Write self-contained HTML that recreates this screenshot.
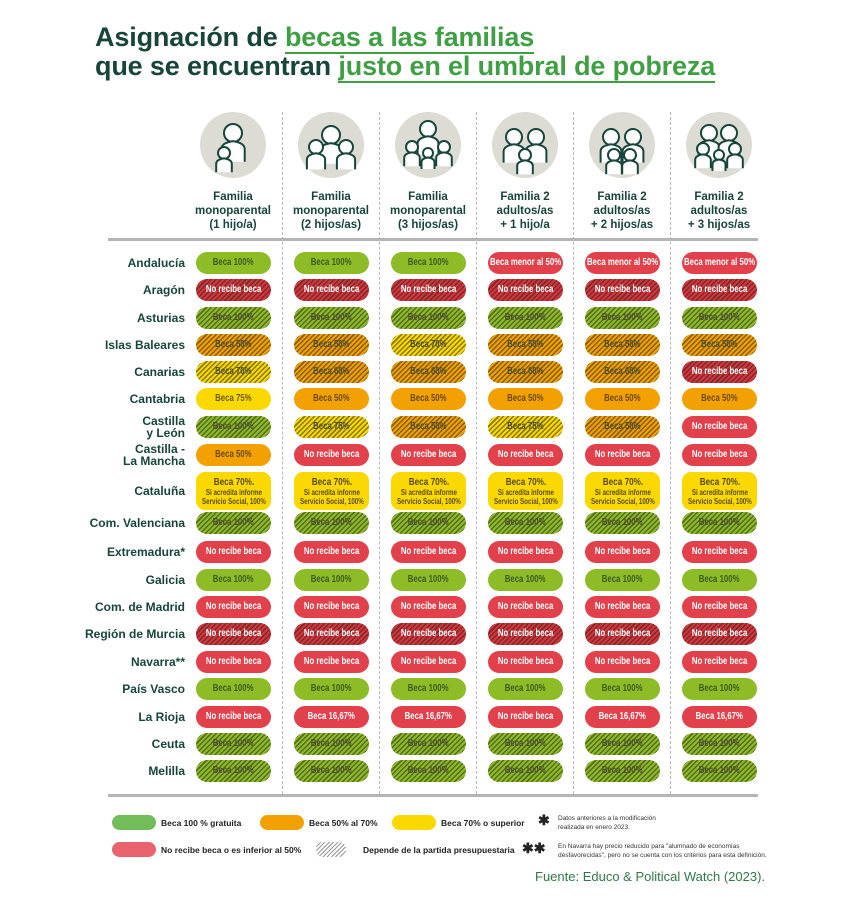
<!DOCTYPE html>
<html><head><meta charset="utf-8"><style>
*{margin:0;padding:0;box-sizing:border-box}
body{width:856px;height:905px;background:#fff;position:relative;overflow:hidden;font-family:"Liberation Sans",sans-serif}
.t{position:absolute;left:95px;font-weight:bold;font-size:27px;color:#17453a;letter-spacing:-0.15px;white-space:nowrap}
.t span{color:#3ea043;border-bottom:2px solid #3ea043}
.hl{position:absolute;left:108px;width:650px;height:3px;background:#b5b5b5}
.vs{position:absolute;width:0;border-left:1px dashed #b8b8c4;top:112px;height:682px}
.circ{position:absolute;width:66px;height:66px;border-radius:50%;background:#dcdcd5}
.hd{position:absolute;width:96px;text-align:center;font-weight:bold;font-size:11.5px;line-height:14px;color:#17453a}
.lb{position:absolute;right:671px;font-weight:bold;font-size:12px;color:#17453a;text-align:right;line-height:12px;white-space:nowrap}
.p{position:absolute;width:75px;height:22px;border-radius:11px;display:flex;align-items:center;justify-content:center;font-weight:bold;font-size:10px;white-space:nowrap;text-align:center;line-height:10px}
.p span{display:inline-block;transform:scaleX(0.78)}
.G{background:#8dbc27;color:#3f5a1e}
.R{background:#e2404b;color:#fff}
.O{background:#f3a100;color:#6b4a10}
.Y{background:#fbd900;color:#6b5a10}
.h{background-image:repeating-linear-gradient(135deg,rgba(40,40,20,.55) 0 1.5px,transparent 1.5px 3.5px)}
.h.G,.h.O,.h.Y{color:#4d4d30}
.h.R{background-color:#d8333e}
.lg{position:absolute;font-weight:bold;font-size:8.5px;color:#222;white-space:nowrap}
.sm{position:absolute;font-size:6.5px;color:#333;line-height:9px;white-space:nowrap}
</style></head><body>
<div class="t" style="top:22px">Asignación de <span>becas a las familias</span></div>
<div class="t" style="top:51px">que se encuentran <span>justo en el umbral de pobreza</span></div>

<div class="vs" style="left:282px"></div><div class="vs" style="left:379px"></div><div class="vs" style="left:476px"></div><div class="vs" style="left:573px"></div><div class="vs" style="left:670px"></div>
<div class="hl" style="top:238px"></div>
<div class="hl" style="top:794px"></div>

<div id="icons"></div>
<div id="grid"></div>

<div class="p" style="left:112px;top:815px;width:44px;height:15px;background:#72bd5a"></div>
<div class="lg" style="left:161px;top:818px">Beca 100 % gratuita</div>
<div class="p O" style="left:260px;top:815px;width:44px;height:15px"></div>
<div class="lg" style="left:309px;top:818px">Beca 50% al 70%</div>
<div class="p Y" style="left:392px;top:815px;width:44px;height:15px"></div>
<div class="lg" style="left:441px;top:818px">Beca 70% o superior</div>
<div class="lg" style="left:538px;top:812px;font-size:14px">✱</div>
<div class="sm" style="left:558px;top:814px">Datos anteriores a la modificación<br>realizada en enero 2023.</div>
<div class="p" style="left:112px;top:842px;width:44px;height:15px;background:#e8636e"></div>
<div class="lg" style="left:161px;top:845px">No recibe beca o es inferior al 50%</div>
<div style="position:absolute;left:316px;top:842px;width:30px;height:15px;border-radius:7px;background:repeating-linear-gradient(135deg,#999 0 1px,transparent 1px 3px)"></div>
<div class="lg" style="left:363px;top:845px">Depende de la partida presupuestaria</div>
<div class="lg" style="left:522px;top:840px;font-size:14px">✱✱</div>
<div class="sm" style="left:558px;top:842px">En Navarra hay precio reducido para "alumnado de economías<br>desfavorecidas", pero no se cuenta con los criterios para esta definición.</div>
<div style="position:absolute;left:535px;top:869px;font-size:13px;color:#2f7a45">Fuente: Educo &amp; Political Watch (2023).</div>

<script>
const cx=[233,331,428,525,622,719];
const heads=["Familia<br>monoparental<br>(1 hijo/a)","Familia<br>monoparental<br>(2 hijos/as)","Familia<br>monoparental<br>(3 hijos/as)","Familia 2<br>adultos/as<br>+ 1 hijo/a","Familia 2<br>adultos/as<br>+ 2 hijos/as","Familia 2<br>adultos/as<br>+ 3 hijos/as"];
let ic="";
const ppl=[[[0,-12,9],[-9,8,6]],[[0,-10,9],[-15,2,7],[15,2,7]],[[0,-16,8],[-16,2,6],[16,2,6],[0,8,5]],[[-11,-8,8],[11,-8,8],[0,10,6]],[[-11,-8,8],[11,-8,8],[-8,10,6],[8,10,6]],[[-10,-12,8],[10,-12,8],[-16,4,6],[16,4,6],[0,10,5]]];
cx.forEach((x,i)=>{
 ic+=`<div class="circ" style="left:${x-33}px;top:112px"></div>`;
 let s=`<svg style="position:absolute;left:${x-40}px;top:105px" width="80" height="80" viewBox="-40 -40 80 80" fill="none" stroke="#17453a" stroke-width="2">`;
 ppl[i].forEach(([a,b,r])=>{s+=`<circle cx="${a}" cy="${b}" r="${r}" fill="#fff"/><path d="M${a-r*1.3} ${b+r*3.2} v-${r*1.4} q0 -${r*0.7} ${r*1.3} -${r*0.9} q${r*1.3} ${r*0.2} ${r*1.3} ${r*0.9} v${r*1.4}" fill="#fff"/>`;});
 ic+=s+`</svg>`;
 ic+=`<div class="hd" style="left:${x-48}px;top:190px">${heads[i]}</div>`;
});
document.getElementById("icons").innerHTML=ic;
const B={G:"Beca 100%",N:"No recibe beca",M:"Beca menor al 50%"};
const rows=[
["Andalucía",263,["G","G","G","R|M","R|M","R|M"]],
["Aragón",290,Array(6).fill("Rh|N")],
["Asturias",318,Array(6).fill("Gh")],
["Islas Baleares",345,["Oh|Beca 50%","Oh|Beca 50%","Yh|Beca 70%","Oh|Beca 50%","Oh|Beca 50%","Oh|Beca 50%"]],
["Canarias",372,["Yh|Beca 70%","Oh|Beca 60%","Oh|Beca 60%","Oh|Beca 60%","Oh|Beca 60%","Rh|N"]],
["Cantabria",399,["Y|Beca 75%","O|Beca 50%","O|Beca 50%","O|Beca 50%","O|Beca 50%","O|Beca 50%"]],
["Castilla<br>y León",427,["Gh","Yh|Beca 75%","Oh|Beca 50%","Yh|Beca 75%","Oh|Beca 50%","R|N"]],
["Castilla -<br>La Mancha",455,["O|Beca 50%","R|N","R|N","R|N","R|N","R|N"]],
["Cataluña",491,Array(6).fill("C")],
["Com. Valenciana",523,Array(6).fill("Gh")],
["Extremadura*",552,Array(6).fill("R|N")],
["Galicia",580,Array(6).fill("G")],
["Com. de Madrid",607,Array(6).fill("R|N")],
["Región de Murcia",634,Array(6).fill("Rh|N")],
["Navarra**",662,Array(6).fill("R|N")],
["País Vasco",689,Array(6).fill("G")],
["La Rioja",717,["R|N","R|Beca 16,67%","R|Beca 16,67%","R|N","R|Beca 16,67%","R|Beca 16,67%"]],
["Ceuta",744,Array(6).fill("Gh")],
["Melilla",771,Array(6).fill("Gh")]];
let g="";
rows.forEach(([n,y,cs])=>{
 const two=n.includes("<br>");
 g+=`<div class="lb" style="top:${y-(two?12:6)}px">${n}</div>`;
 cs.forEach((c,i)=>{
  let [k,t]=c.split("|");
  if(k==="C"){g+=`<div class="p Y" style="left:${cx[i]-37}px;top:${y-19}px;height:38px;border-radius:9px;flex-direction:column;color:#5a4a10"><span style="font-size:10.5px;line-height:12px">Beca 70%.</span><span style="font-size:8px;line-height:9px">Si acredita informe<br>Servicio Social, 100%</span></div>`;return;}
  if(!t)t="G";
  t=B[t]||t;
  const cls=k[0]+(k.length>1?" h":"");
  g+=`<div class="p ${cls}" style="left:${cx[i]-37}px;top:${y-11}px"><span>${t}</span></div>`;
 });
});
document.getElementById("grid").innerHTML=g;
</script>
</body></html>
